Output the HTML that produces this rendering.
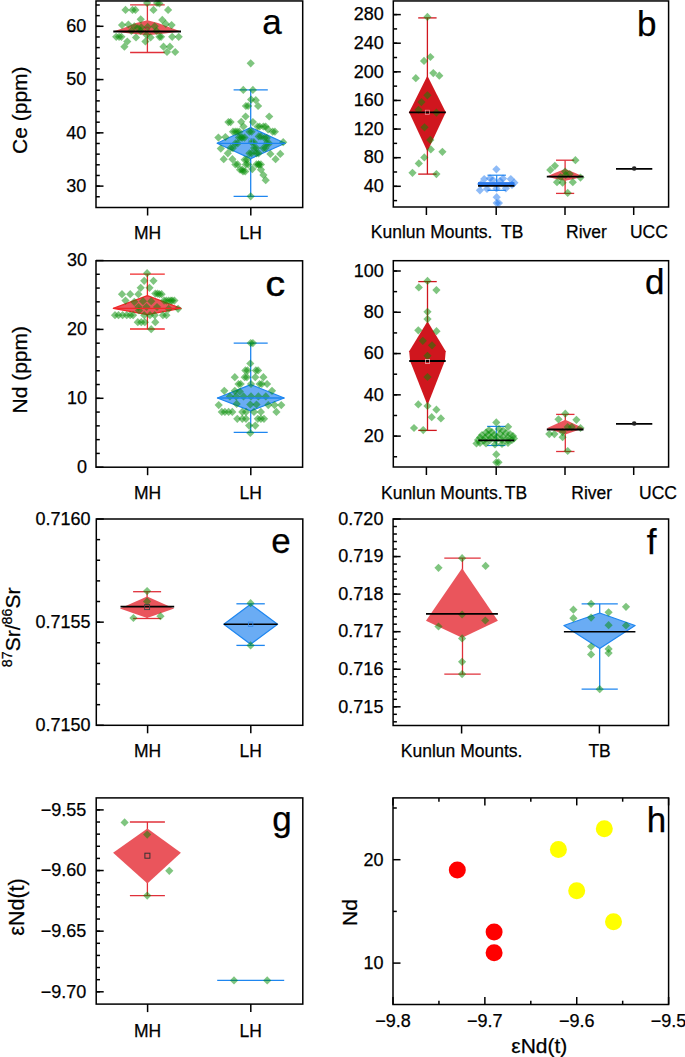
<!DOCTYPE html>
<html><head><meta charset="utf-8"><style>
html,body{margin:0;padding:0;background:#fff;}
svg{display:block;font-family:"Liberation Sans", sans-serif;}
text{stroke:#000;stroke-width:0.25px;}
</style></head><body>
<svg width="685" height="1057" viewBox="0 0 685 1057">
<rect width="685" height="1057" fill="#fff"/>
<line x1="147.40" y1="4.90" x2="147.40" y2="52.50" stroke="#e0303a" stroke-width="1.3" />
<line x1="130.10" y1="4.90" x2="164.70" y2="4.90" stroke="#e0303a" stroke-width="1.3" />
<line x1="130.10" y1="52.50" x2="164.70" y2="52.50" stroke="#e0303a" stroke-width="1.3" />
<polygon points="113.3,31.5 125.0,27.5 136.0,23.0 147.4,20.2 158.0,23.0 170.0,27.5 181.0,31.5 165.0,33.5 147.4,35.2 130.0,33.5" fill="#ea555c" stroke="none" stroke-width="1.2" stroke-linejoin="round"/>
<line x1="250.70" y1="89.80" x2="250.70" y2="196.30" stroke="#1e86f0" stroke-width="1.3" />
<line x1="233.60" y1="89.80" x2="267.80" y2="89.80" stroke="#1e86f0" stroke-width="1.3" />
<line x1="233.60" y1="196.30" x2="267.80" y2="196.30" stroke="#1e86f0" stroke-width="1.3" />
<polygon points="250.7,127.5 285.2,143.3 250.7,158.6 217.1,143.3" fill="#6aacf4" stroke="#1e86f0" stroke-width="1.2" stroke-linejoin="round"/>
<g fill="rgba(0,140,0,0.5)"><path d="M125.5 5.8L129.6 9.9L125.5 14.0L121.4 9.9Z"/><path d="M132.5 5.8L136.6 9.9L132.5 14.0L128.4 9.9Z"/><path d="M135.4 5.8L139.5 9.9L135.4 14.0L131.3 9.9Z"/><path d="M147.1 -1.2L151.2 2.9L147.1 7.0L143.0 2.9Z"/><path d="M157.0 -1.2L161.1 2.9L157.0 7.0L152.9 2.9Z"/><path d="M159.4 -0.6L163.5 3.5L159.4 7.6L155.3 3.5Z"/><path d="M153.5 5.8L157.6 9.9L153.5 14.0L149.4 9.9Z"/><path d="M168.1 5.8L172.2 9.9L168.1 14.0L164.0 9.9Z"/><path d="M140.7 15.2L144.8 19.3L140.7 23.4L136.6 19.3Z"/><path d="M162.3 15.8L166.4 19.9L162.3 24.0L158.2 19.9Z"/><path d="M122.0 21.0L126.1 25.1L122.0 29.2L117.9 25.1Z"/><path d="M128.4 20.4L132.5 24.5L128.4 28.6L124.3 24.5Z"/><path d="M134.3 22.2L138.4 26.3L134.3 30.4L130.2 26.3Z"/><path d="M141.3 23.3L145.4 27.4L141.3 31.5L137.2 27.4Z"/><path d="M147.7 22.8L151.8 26.9L147.7 31.0L143.6 26.9Z"/><path d="M154.7 22.2L158.8 26.3L154.7 30.4L150.6 26.3Z"/><path d="M165.8 19.8L169.9 23.9L165.8 28.0L161.7 23.9Z"/><path d="M171.6 21.0L175.7 25.1L171.6 29.2L167.5 25.1Z"/><path d="M131.4 26.8L135.5 30.9L131.4 35.0L127.3 30.9Z"/><path d="M140.7 26.8L144.8 30.9L140.7 35.0L136.6 30.9Z"/><path d="M156.5 26.8L160.6 30.9L156.5 35.0L152.4 30.9Z"/><path d="M116.2 32.7L120.3 36.8L116.2 40.9L112.1 36.8Z"/><path d="M119.1 32.7L123.2 36.8L119.1 40.9L115.0 36.8Z"/><path d="M121.4 32.7L125.5 36.8L121.4 40.9L117.3 36.8Z"/><path d="M136.0 33.3L140.1 37.4L136.0 41.5L131.9 37.4Z"/><path d="M150.6 33.3L154.7 37.4L150.6 41.5L146.5 37.4Z"/><path d="M159.4 32.7L163.5 36.8L159.4 40.9L155.3 36.8Z"/><path d="M161.1 32.7L165.2 36.8L161.1 40.9L157.0 36.8Z"/><path d="M172.2 32.7L176.3 36.8L172.2 40.9L168.1 36.8Z"/><path d="M178.7 32.7L182.8 36.8L178.7 40.9L174.6 36.8Z"/><path d="M127.3 37.4L131.4 41.5L127.3 45.6L123.2 41.5Z"/><path d="M145.4 37.4L149.5 41.5L145.4 45.6L141.3 41.5Z"/><path d="M124.4 42.6L128.5 46.7L124.4 50.8L120.3 46.7Z"/><path d="M163.5 42.6L167.6 46.7L163.5 50.8L159.4 46.7Z"/><path d="M169.9 42.6L174.0 46.7L169.9 50.8L165.8 46.7Z"/><path d="M167.0 47.9L171.1 52.0L167.0 56.1L162.9 52.0Z"/><path d="M175.2 47.9L179.3 52.0L175.2 56.1L171.1 52.0Z"/><path d="M146.5 30.9L150.6 35.0L146.5 39.1L142.4 35.0Z"/><path d="M137.8 23.9L141.9 28.0L137.8 32.1L133.7 28.0Z"/><path d="M250.7 59.2L254.8 63.3L250.7 67.4L246.6 63.3Z"/><path d="M243.3 85.8L247.4 89.9L243.3 94.0L239.2 89.9Z"/><path d="M252.9 85.8L257.0 89.9L252.9 94.0L248.8 89.9Z"/><path d="M251.1 95.5L255.2 99.6L251.1 103.7L247.0 99.6Z"/><path d="M255.8 96.1L259.9 100.2L255.8 104.3L251.7 100.2Z"/><path d="M245.9 101.9L250.0 106.0L245.9 110.1L241.8 106.0Z"/><path d="M248.1 101.9L252.2 106.0L248.1 110.1L244.0 106.0Z"/><path d="M258.1 101.9L262.2 106.0L258.1 110.1L254.0 106.0Z"/><path d="M245.6 112.4L249.7 116.5L245.6 120.6L241.5 116.5Z"/><path d="M269.2 112.4L273.3 116.5L269.2 120.6L265.1 116.5Z"/><path d="M228.4 118.0L232.5 122.1L228.4 126.2L224.3 122.1Z"/><path d="M230.6 118.0L234.7 122.1L230.6 126.2L226.5 122.1Z"/><path d="M241.2 117.7L245.3 121.8L241.2 125.9L237.1 121.8Z"/><path d="M252.9 118.0L257.0 122.1L252.9 126.2L248.8 122.1Z"/><path d="M243.5 122.4L247.6 126.5L243.5 130.6L239.4 126.5Z"/><path d="M257.5 122.4L261.6 126.5L257.5 130.6L253.4 126.5Z"/><path d="M259.7 122.4L263.8 126.5L259.7 130.6L255.6 126.5Z"/><path d="M263.4 122.4L267.5 126.5L263.4 130.6L259.3 126.5Z"/><path d="M265.6 122.4L269.7 126.5L265.6 130.6L261.5 126.5Z"/><path d="M233.0 127.6L237.1 131.7L233.0 135.8L228.9 131.7Z"/><path d="M235.2 127.6L239.3 131.7L235.2 135.8L231.1 131.7Z"/><path d="M237.1 127.6L241.2 131.7L237.1 135.8L233.0 131.7Z"/><path d="M239.3 127.6L243.4 131.7L239.3 135.8L235.2 131.7Z"/><path d="M249.4 127.6L253.5 131.7L249.4 135.8L245.3 131.7Z"/><path d="M251.6 127.6L255.7 131.7L251.6 135.8L247.5 131.7Z"/><path d="M272.7 127.6L276.8 131.7L272.7 135.8L268.6 131.7Z"/><path d="M274.9 127.6L279.0 131.7L274.9 135.8L270.8 131.7Z"/><path d="M268.1 125.3L272.2 129.4L268.1 133.5L264.0 129.4Z"/><path d="M218.4 133.5L222.5 137.6L218.4 141.7L214.3 137.6Z"/><path d="M225.4 132.9L229.5 137.0L225.4 141.1L221.3 137.0Z"/><path d="M238.9 133.5L243.0 137.6L238.9 141.7L234.8 137.6Z"/><path d="M241.1 133.5L245.2 137.6L241.1 141.7L237.0 137.6Z"/><path d="M242.4 133.5L246.5 137.6L242.4 141.7L238.3 137.6Z"/><path d="M244.6 133.5L248.7 137.6L244.6 141.7L240.5 137.6Z"/><path d="M258.7 132.3L262.8 136.4L258.7 140.5L254.6 136.4Z"/><path d="M260.9 132.3L265.0 136.4L260.9 140.5L256.8 136.4Z"/><path d="M264.6 134.0L268.7 138.1L264.6 142.2L260.5 138.1Z"/><path d="M266.8 134.0L270.9 138.1L266.8 142.2L262.7 138.1Z"/><path d="M283.2 138.1L287.3 142.2L283.2 146.3L279.1 142.2Z"/><path d="M235.4 139.3L239.5 143.4L235.4 147.5L231.3 143.4Z"/><path d="M237.6 139.3L241.7 143.4L237.6 147.5L233.5 143.4Z"/><path d="M251.7 138.1L255.8 142.2L251.7 146.3L247.6 142.2Z"/><path d="M253.9 138.1L258.0 142.2L253.9 146.3L249.8 142.2Z"/><path d="M266.9 139.3L271.0 143.4L266.9 147.5L262.8 143.4Z"/><path d="M269.1 139.3L273.2 143.4L269.1 147.5L265.0 143.4Z"/><path d="M220.8 144.5L224.9 148.6L220.8 152.7L216.7 148.6Z"/><path d="M230.7 144.0L234.8 148.1L230.7 152.2L226.6 148.1Z"/><path d="M232.9 144.0L237.0 148.1L232.9 152.2L228.8 148.1Z"/><path d="M254.0 144.0L258.1 148.1L254.0 152.2L249.9 148.1Z"/><path d="M256.2 144.0L260.3 148.1L256.2 152.2L252.1 148.1Z"/><path d="M263.4 144.0L267.5 148.1L263.4 152.2L259.3 148.1Z"/><path d="M265.6 144.0L269.7 148.1L265.6 152.2L261.5 148.1Z"/><path d="M227.8 149.2L231.9 153.3L227.8 157.4L223.7 153.3Z"/><path d="M249.4 149.2L253.5 153.3L249.4 157.4L245.3 153.3Z"/><path d="M251.6 149.2L255.7 153.3L251.6 157.4L247.5 153.3Z"/><path d="M256.4 149.2L260.5 153.3L256.4 157.4L252.3 153.3Z"/><path d="M258.6 149.2L262.7 153.3L258.6 157.4L254.5 153.3Z"/><path d="M270.4 149.8L274.5 153.9L270.4 158.0L266.3 153.9Z"/><path d="M280.3 149.8L284.4 153.9L280.3 158.0L276.2 153.9Z"/><path d="M223.7 155.1L227.8 159.2L223.7 163.3L219.6 159.2Z"/><path d="M232.4 155.1L236.5 159.2L232.4 163.3L228.3 159.2Z"/><path d="M244.7 155.6L248.8 159.7L244.7 163.8L240.6 159.7Z"/><path d="M246.9 155.6L251.0 159.7L246.9 163.8L242.8 159.7Z"/><path d="M275.6 155.1L279.7 159.2L275.6 163.3L271.5 159.2Z"/><path d="M235.4 160.3L239.5 164.4L235.4 168.5L231.3 164.4Z"/><path d="M237.6 160.3L241.7 164.4L237.6 168.5L233.5 164.4Z"/><path d="M245.9 160.3L250.0 164.4L245.9 168.5L241.8 164.4Z"/><path d="M248.1 160.3L252.2 164.4L248.1 168.5L244.0 164.4Z"/><path d="M256.4 160.3L260.5 164.4L256.4 168.5L252.3 164.4Z"/><path d="M258.6 160.3L262.7 164.4L258.6 168.5L254.5 164.4Z"/><path d="M258.7 160.3L262.8 164.4L258.7 168.5L254.6 164.4Z"/><path d="M260.9 160.3L265.0 164.4L260.9 168.5L256.8 164.4Z"/><path d="M240.0 165.6L244.1 169.7L240.0 173.8L235.9 169.7Z"/><path d="M242.2 165.6L246.3 169.7L242.2 173.8L238.1 169.7Z"/><path d="M252.3 165.0L256.4 169.1L252.3 173.2L248.2 169.1Z"/><path d="M261.0 165.6L265.1 169.7L261.0 173.8L256.9 169.7Z"/><path d="M243.0 167.3L247.1 171.4L243.0 175.5L238.9 171.4Z"/><path d="M245.2 167.3L249.3 171.4L245.2 175.5L241.1 171.4Z"/><path d="M263.4 170.9L267.5 175.0L263.4 179.1L259.3 175.0Z"/><path d="M265.7 176.1L269.8 180.2L265.7 184.3L261.6 180.2Z"/><path d="M250.7 192.2L254.8 196.3L250.7 200.4L246.6 196.3Z"/></g>
<line x1="217.10" y1="143.30" x2="285.20" y2="143.30" stroke="#1e86f0" stroke-width="1.3" />
<rect x="248.70" y="138.80" width="4" height="4" fill="none" stroke="#3a8ae8" stroke-width="0.7"/>
<circle cx="147.1" cy="29.2" r="2.2" fill="none" stroke="#a03030" stroke-width="0.8"/>
<line x1="113.30" y1="31.50" x2="181.00" y2="31.50" stroke="#000" stroke-width="1.8" />
<rect x="96" y="0.95" width="206.7" height="206.55" fill="none" stroke="#000" stroke-width="1.5"/>
<line x1="96.00" y1="186.11" x2="103.50" y2="186.11" stroke="#000" stroke-width="1.5" />
<line x1="96.00" y1="132.84" x2="103.50" y2="132.84" stroke="#000" stroke-width="1.5" />
<line x1="96.00" y1="79.57" x2="103.50" y2="79.57" stroke="#000" stroke-width="1.5" />
<line x1="96.00" y1="26.30" x2="103.50" y2="26.30" stroke="#000" stroke-width="1.5" />
<line x1="96.00" y1="196.76" x2="99.80" y2="196.76" stroke="#000" stroke-width="1.5" />
<line x1="96.00" y1="186.11" x2="99.80" y2="186.11" stroke="#000" stroke-width="1.5" />
<line x1="96.00" y1="175.46" x2="99.80" y2="175.46" stroke="#000" stroke-width="1.5" />
<line x1="96.00" y1="164.80" x2="99.80" y2="164.80" stroke="#000" stroke-width="1.5" />
<line x1="96.00" y1="154.15" x2="99.80" y2="154.15" stroke="#000" stroke-width="1.5" />
<line x1="96.00" y1="143.49" x2="99.80" y2="143.49" stroke="#000" stroke-width="1.5" />
<line x1="96.00" y1="132.84" x2="99.80" y2="132.84" stroke="#000" stroke-width="1.5" />
<line x1="96.00" y1="122.19" x2="99.80" y2="122.19" stroke="#000" stroke-width="1.5" />
<line x1="96.00" y1="111.53" x2="99.80" y2="111.53" stroke="#000" stroke-width="1.5" />
<line x1="96.00" y1="100.88" x2="99.80" y2="100.88" stroke="#000" stroke-width="1.5" />
<line x1="96.00" y1="90.22" x2="99.80" y2="90.22" stroke="#000" stroke-width="1.5" />
<line x1="96.00" y1="79.57" x2="99.80" y2="79.57" stroke="#000" stroke-width="1.5" />
<line x1="96.00" y1="68.92" x2="99.80" y2="68.92" stroke="#000" stroke-width="1.5" />
<line x1="96.00" y1="58.26" x2="99.80" y2="58.26" stroke="#000" stroke-width="1.5" />
<line x1="96.00" y1="47.61" x2="99.80" y2="47.61" stroke="#000" stroke-width="1.5" />
<line x1="96.00" y1="36.95" x2="99.80" y2="36.95" stroke="#000" stroke-width="1.5" />
<line x1="96.00" y1="26.30" x2="99.80" y2="26.30" stroke="#000" stroke-width="1.5" />
<line x1="96.00" y1="15.65" x2="99.80" y2="15.65" stroke="#000" stroke-width="1.5" />
<line x1="96.00" y1="4.99" x2="99.80" y2="4.99" stroke="#000" stroke-width="1.5" />
<text x="86.30" y="191.91" font-size="18" text-anchor="end" font-weight="normal" >30</text>
<text x="86.30" y="138.64" font-size="18" text-anchor="end" font-weight="normal" >40</text>
<text x="86.30" y="85.37" font-size="18" text-anchor="end" font-weight="normal" >50</text>
<text x="86.30" y="32.10" font-size="18" text-anchor="end" font-weight="normal" >60</text>
<line x1="147.60" y1="207.50" x2="147.60" y2="215.50" stroke="#000" stroke-width="1.5" />
<line x1="250.80" y1="207.50" x2="250.80" y2="215.50" stroke="#000" stroke-width="1.5" />
<text x="147.60" y="238.90" font-size="17.5" text-anchor="middle" font-weight="normal" >MH</text>
<text x="250.80" y="238.90" font-size="17.5" text-anchor="middle" font-weight="normal" >LH</text>
<text x="281.80" y="33.90" font-size="35" text-anchor="end" font-weight="normal" >a</text>
<text transform="translate(27.3,110.2) rotate(-90)" font-size="21" text-anchor="middle">Ce (ppm)</text>
<line x1="427.40" y1="17.90" x2="427.40" y2="174.10" stroke="#d0161e" stroke-width="1.3" />
<line x1="418.20" y1="17.90" x2="436.60" y2="17.90" stroke="#d0161e" stroke-width="1.3" />
<line x1="418.20" y1="174.10" x2="436.60" y2="174.10" stroke="#d0161e" stroke-width="1.3" />
<polygon points="427.4,75.7 445.8,112.3 427.4,151.5 409.1,112.3" fill="#d0161e" stroke="none" stroke-width="1.2" stroke-linejoin="round"/>
<line x1="496.70" y1="175.20" x2="496.70" y2="190.30" stroke="#1e86f0" stroke-width="1.2" />
<line x1="487.50" y1="175.20" x2="505.90" y2="175.20" stroke="#1e86f0" stroke-width="1.2" />
<line x1="487.50" y1="190.30" x2="505.90" y2="190.30" stroke="#1e86f0" stroke-width="1.2" />
<g fill="rgba(30,120,240,0.5)"><path d="M496.4 165.2L500.5 169.3L496.4 173.4L492.3 169.3Z"/><path d="M484.2 175.0L488.3 179.1L484.2 183.2L480.1 179.1Z"/><path d="M490.0 174.2L494.1 178.3L490.0 182.4L485.9 178.3Z"/><path d="M503.0 174.5L507.1 178.6L503.0 182.7L498.9 178.6Z"/><path d="M510.8 175.0L514.9 179.1L510.8 183.2L506.7 179.1Z"/><path d="M514.4 178.6L518.5 182.7L514.4 186.8L510.3 182.7Z"/><path d="M479.9 186.2L484.0 190.3L479.9 194.4L475.8 190.3Z"/><path d="M487.0 184.9L491.1 189.0L487.0 193.1L482.9 189.0Z"/><path d="M496.5 184.4L500.6 188.5L496.5 192.6L492.4 188.5Z"/><path d="M505.9 184.2L510.0 188.3L505.9 192.4L501.8 188.3Z"/><path d="M496.7 193.1L500.8 197.2L496.7 201.3L492.6 197.2Z"/><path d="M496.7 199.0L500.8 203.1L496.7 207.2L492.6 203.1Z"/><path d="M498.9 199.0L503.0 203.1L498.9 207.2L494.8 203.1Z"/><path d="M481.0 179.9L485.1 184.0L481.0 188.1L476.9 184.0Z"/><path d="M512.0 180.9L516.1 185.0L512.0 189.1L507.9 185.0Z"/><path d="M493.0 175.9L497.1 180.0L493.0 184.1L488.9 180.0Z"/><path d="M500.0 176.9L504.1 181.0L500.0 185.1L495.9 181.0Z"/></g>
<rect x="478" y="182.1" width="36.4" height="3.3" fill="#2a78ea"/>
<line x1="565.10" y1="160.20" x2="565.10" y2="193.40" stroke="#e0303a" stroke-width="1.3" />
<line x1="556.00" y1="160.20" x2="574.20" y2="160.20" stroke="#e0303a" stroke-width="1.3" />
<line x1="556.00" y1="193.40" x2="574.20" y2="193.40" stroke="#e0303a" stroke-width="1.3" />
<polygon points="546.8,176.6 556.0,172.5 565.1,168.9 574.0,172.5 583.5,176.6 574.0,179.0 565.1,180.7 556.0,179.0" fill="#ea555c" stroke="none" stroke-width="1.2" stroke-linejoin="round"/>
<g fill="rgba(0,140,0,0.5)"><path d="M427.4 12.8L431.5 16.9L427.4 21.0L423.3 16.9Z"/><path d="M424.0 56.8L428.1 60.9L424.0 65.0L419.9 60.9Z"/><path d="M430.4 52.9L434.5 57.0L430.4 61.1L426.3 57.0Z"/><path d="M415.8 74.1L419.9 78.2L415.8 82.3L411.7 78.2Z"/><path d="M433.3 69.0L437.4 73.1L433.3 77.2L429.2 73.1Z"/><path d="M439.3 71.6L443.4 75.7L439.3 79.8L435.2 75.7Z"/><path d="M427.4 91.2L431.5 95.3L427.4 99.4L423.3 95.3Z"/><path d="M421.4 98.0L425.5 102.1L421.4 106.2L417.3 102.1Z"/><path d="M418.5 105.7L422.6 109.8L418.5 113.9L414.4 109.8Z"/><path d="M436.4 108.5L440.5 112.6L436.4 116.7L432.3 112.6Z"/><path d="M424.5 123.2L428.6 127.3L424.5 131.4L420.4 127.3Z"/><path d="M430.3 135.8L434.4 139.9L430.3 144.0L426.2 139.9Z"/><path d="M430.8 145.3L434.9 149.4L430.8 153.5L426.7 149.4Z"/><path d="M442.4 147.7L446.5 151.8L442.4 155.9L438.3 151.8Z"/><path d="M424.3 153.3L428.4 157.4L424.3 161.5L420.2 157.4Z"/><path d="M418.8 159.3L422.9 163.4L418.8 167.5L414.7 163.4Z"/><path d="M412.5 168.7L416.6 172.8L412.5 176.9L408.4 172.8Z"/><path d="M436.4 170.0L440.5 174.1L436.4 178.2L432.3 174.1Z"/><path d="M575.4 156.1L579.5 160.2L575.4 164.3L571.3 160.2Z"/><path d="M554.9 161.7L559.0 165.8L554.9 169.9L550.8 165.8Z"/><path d="M550.3 165.8L554.4 169.9L550.3 174.0L546.2 169.9Z"/><path d="M565.1 167.4L569.2 171.5L565.1 175.6L561.0 171.5Z"/><path d="M569.7 169.9L573.8 174.0L569.7 178.1L565.6 174.0Z"/><path d="M560.5 173.0L564.6 177.1L560.5 181.2L556.4 177.1Z"/><path d="M580.5 173.5L584.6 177.6L580.5 181.7L576.4 177.6Z"/><path d="M557.0 178.1L561.1 182.2L557.0 186.3L552.9 182.2Z"/><path d="M562.6 178.6L566.7 182.7L562.6 186.8L558.5 182.7Z"/><path d="M572.8 178.1L576.9 182.2L572.8 186.3L568.7 182.2Z"/><path d="M567.7 188.8L571.8 192.9L567.7 197.0L563.6 192.9Z"/><path d="M565.7 170.9L569.8 175.0L565.7 179.1L561.6 175.0Z"/></g>
<line x1="409.10" y1="112.30" x2="445.80" y2="112.30" stroke="#000" stroke-width="1.8" />
<rect x="425.25" y="110.15" width="4.3" height="4.3" fill="none" stroke="#f3b0b0" stroke-width="0.6"/>
<line x1="478.00" y1="185.90" x2="514.40" y2="185.90" stroke="#000" stroke-width="1.8" />
<line x1="546.80" y1="176.60" x2="583.50" y2="176.60" stroke="#000" stroke-width="1.8" />
<line x1="616.00" y1="168.80" x2="652.30" y2="168.80" stroke="#000" stroke-width="1.8" />
<circle cx="634.2" cy="168.5" r="2.3" fill="#222"/>
<rect x="393.3" y="0.95" width="275.3" height="206.05" fill="none" stroke="#000" stroke-width="1.5"/>
<line x1="393.30" y1="186.30" x2="400.80" y2="186.30" stroke="#000" stroke-width="1.5" />
<line x1="393.30" y1="157.68" x2="400.80" y2="157.68" stroke="#000" stroke-width="1.5" />
<line x1="393.30" y1="129.06" x2="400.80" y2="129.06" stroke="#000" stroke-width="1.5" />
<line x1="393.30" y1="100.45" x2="400.80" y2="100.45" stroke="#000" stroke-width="1.5" />
<line x1="393.30" y1="71.83" x2="400.80" y2="71.83" stroke="#000" stroke-width="1.5" />
<line x1="393.30" y1="43.22" x2="400.80" y2="43.22" stroke="#000" stroke-width="1.5" />
<line x1="393.30" y1="14.60" x2="400.80" y2="14.60" stroke="#000" stroke-width="1.5" />
<line x1="393.30" y1="200.60" x2="397.10" y2="200.60" stroke="#000" stroke-width="1.5" />
<line x1="393.30" y1="186.30" x2="397.10" y2="186.30" stroke="#000" stroke-width="1.5" />
<line x1="393.30" y1="171.99" x2="397.10" y2="171.99" stroke="#000" stroke-width="1.5" />
<line x1="393.30" y1="157.68" x2="397.10" y2="157.68" stroke="#000" stroke-width="1.5" />
<line x1="393.30" y1="143.37" x2="397.10" y2="143.37" stroke="#000" stroke-width="1.5" />
<line x1="393.30" y1="129.06" x2="397.10" y2="129.06" stroke="#000" stroke-width="1.5" />
<line x1="393.30" y1="114.76" x2="397.10" y2="114.76" stroke="#000" stroke-width="1.5" />
<line x1="393.30" y1="100.45" x2="397.10" y2="100.45" stroke="#000" stroke-width="1.5" />
<line x1="393.30" y1="86.14" x2="397.10" y2="86.14" stroke="#000" stroke-width="1.5" />
<line x1="393.30" y1="71.83" x2="397.10" y2="71.83" stroke="#000" stroke-width="1.5" />
<line x1="393.30" y1="57.52" x2="397.10" y2="57.52" stroke="#000" stroke-width="1.5" />
<line x1="393.30" y1="43.22" x2="397.10" y2="43.22" stroke="#000" stroke-width="1.5" />
<line x1="393.30" y1="28.91" x2="397.10" y2="28.91" stroke="#000" stroke-width="1.5" />
<line x1="393.30" y1="14.60" x2="397.10" y2="14.60" stroke="#000" stroke-width="1.5" />
<text x="383.80" y="192.10" font-size="18" text-anchor="end" font-weight="normal" >40</text>
<text x="383.80" y="163.48" font-size="18" text-anchor="end" font-weight="normal" >80</text>
<text x="383.80" y="134.86" font-size="18" text-anchor="end" font-weight="normal" >120</text>
<text x="383.80" y="106.25" font-size="18" text-anchor="end" font-weight="normal" >160</text>
<text x="383.80" y="77.63" font-size="18" text-anchor="end" font-weight="normal" >200</text>
<text x="383.80" y="49.02" font-size="18" text-anchor="end" font-weight="normal" >240</text>
<text x="383.80" y="20.40" font-size="18" text-anchor="end" font-weight="normal" >280</text>
<line x1="426.40" y1="207.00" x2="426.40" y2="215.00" stroke="#000" stroke-width="1.5" />
<line x1="496.20" y1="207.00" x2="496.20" y2="215.00" stroke="#000" stroke-width="1.5" />
<line x1="565.00" y1="207.00" x2="565.00" y2="215.00" stroke="#000" stroke-width="1.5" />
<line x1="633.70" y1="207.00" x2="633.70" y2="215.00" stroke="#000" stroke-width="1.5" />
<text x="431.60" y="237.60" font-size="17.5" text-anchor="middle" font-weight="normal" >Kunlun Mounts.</text>
<text x="512.20" y="237.60" font-size="17.5" text-anchor="middle" font-weight="normal" >TB</text>
<text x="586.50" y="237.60" font-size="17.5" text-anchor="middle" font-weight="normal" >River</text>
<text x="648.90" y="237.60" font-size="17.5" text-anchor="middle" font-weight="normal" >UCC</text>
<text x="656.50" y="35.80" font-size="35" text-anchor="end" font-weight="normal" >b</text>
<line x1="147.40" y1="274.10" x2="147.40" y2="329.00" stroke="#f0282a" stroke-width="1.3" />
<line x1="130.00" y1="274.10" x2="164.80" y2="274.10" stroke="#f0282a" stroke-width="1.3" />
<line x1="130.00" y1="329.00" x2="164.80" y2="329.00" stroke="#f0282a" stroke-width="1.3" />
<polygon points="147.4,295.6 181.0,308.4 147.4,314.6 113.3,308.4" fill="#ea555c" stroke="#f0282a" stroke-width="1.2" stroke-linejoin="round"/>
<line x1="250.70" y1="343.10" x2="250.70" y2="432.40" stroke="#1e86f0" stroke-width="1.3" />
<line x1="233.70" y1="343.10" x2="267.70" y2="343.10" stroke="#1e86f0" stroke-width="1.3" />
<line x1="233.70" y1="432.40" x2="267.70" y2="432.40" stroke="#1e86f0" stroke-width="1.3" />
<polygon points="250.7,384.6 284.2,398.0 250.7,410.9 217.4,398.0" fill="#6aacf4" stroke="#1e86f0" stroke-width="1.2" stroke-linejoin="round"/>
<g fill="rgba(0,140,0,0.5)"><path d="M147.1 269.1L151.2 273.2L147.1 277.3L143.0 273.2Z"/><path d="M144.2 276.7L148.3 280.8L144.2 284.9L140.1 280.8Z"/><path d="M153.5 276.7L157.6 280.8L153.5 284.9L149.4 280.8Z"/><path d="M140.7 283.7L144.8 287.8L140.7 291.9L136.6 287.8Z"/><path d="M149.5 283.7L153.6 287.8L149.5 291.9L145.4 287.8Z"/><path d="M122.0 290.1L126.1 294.2L122.0 298.3L117.9 294.2Z"/><path d="M130.2 290.1L134.3 294.2L130.2 298.3L126.1 294.2Z"/><path d="M138.4 290.1L142.5 294.2L138.4 298.3L134.3 294.2Z"/><path d="M155.3 289.5L159.4 293.6L155.3 297.7L151.2 293.6Z"/><path d="M157.5 289.5L161.6 293.6L157.5 297.7L153.4 293.6Z"/><path d="M159.4 290.1L163.5 294.2L159.4 298.3L155.3 294.2Z"/><path d="M161.6 290.1L165.7 294.2L161.6 298.3L157.5 294.2Z"/><path d="M125.5 296.5L129.6 300.6L125.5 304.7L121.4 300.6Z"/><path d="M134.3 297.7L138.4 301.8L134.3 305.9L130.2 301.8Z"/><path d="M143.0 297.1L147.1 301.2L143.0 305.3L138.9 301.2Z"/><path d="M151.2 297.1L155.3 301.2L151.2 305.3L147.1 301.2Z"/><path d="M164.1 296.5L168.2 300.6L164.1 304.7L160.0 300.6Z"/><path d="M166.3 296.5L170.4 300.6L166.3 304.7L162.2 300.6Z"/><path d="M168.7 296.5L172.8 300.6L168.7 304.7L164.6 300.6Z"/><path d="M170.9 296.5L175.0 300.6L170.9 304.7L166.8 300.6Z"/><path d="M172.2 296.5L176.3 300.6L172.2 304.7L168.1 300.6Z"/><path d="M174.4 296.5L178.5 300.6L174.4 304.7L170.3 300.6Z"/><path d="M138.4 302.9L142.5 307.0L138.4 311.1L134.3 307.0Z"/><path d="M146.5 302.9L150.6 307.0L146.5 311.1L142.4 307.0Z"/><path d="M157.0 302.9L161.1 307.0L157.0 311.1L152.9 307.0Z"/><path d="M168.7 304.7L172.8 308.8L168.7 312.9L164.6 308.8Z"/><path d="M178.1 304.7L182.2 308.8L178.1 312.9L174.0 308.8Z"/><path d="M139.0 306.4L143.1 310.5L139.0 314.6L134.9 310.5Z"/><path d="M115.0 311.1L119.1 315.2L115.0 319.3L110.9 315.2Z"/><path d="M118.5 311.1L122.6 315.2L118.5 319.3L114.4 315.2Z"/><path d="M122.6 311.1L126.7 315.2L122.6 319.3L118.5 315.2Z"/><path d="M126.7 311.1L130.8 315.2L126.7 319.3L122.6 315.2Z"/><path d="M130.2 311.1L134.3 315.2L130.2 319.3L126.1 315.2Z"/><path d="M133.1 311.1L137.2 315.2L133.1 319.3L129.0 315.2Z"/><path d="M144.2 311.1L148.3 315.2L144.2 319.3L140.1 315.2Z"/><path d="M150.0 311.1L154.1 315.2L150.0 319.3L145.9 315.2Z"/><path d="M154.7 311.1L158.8 315.2L154.7 319.3L150.6 315.2Z"/><path d="M162.9 311.1L167.0 315.2L162.9 319.3L158.8 315.2Z"/><path d="M166.4 311.1L170.5 315.2L166.4 319.3L162.3 315.2Z"/><path d="M137.8 318.1L141.9 322.2L137.8 326.3L133.7 322.2Z"/><path d="M141.3 318.1L145.4 322.2L141.3 326.3L137.2 322.2Z"/><path d="M144.8 318.1L148.9 322.2L144.8 326.3L140.7 322.2Z"/><path d="M155.3 318.1L159.4 322.2L155.3 326.3L151.2 322.2Z"/><path d="M151.2 325.1L155.3 329.2L151.2 333.3L147.1 329.2Z"/><path d="M250.7 339.0L254.8 343.1L250.7 347.2L246.6 343.1Z"/><path d="M252.9 339.0L257.0 343.1L252.9 347.2L248.8 343.1Z"/><path d="M250.3 359.4L254.4 363.5L250.3 367.6L246.2 363.5Z"/><path d="M245.4 366.3L249.5 370.4L245.4 374.5L241.3 370.4Z"/><path d="M247.6 366.3L251.7 370.4L247.6 374.5L243.5 370.4Z"/><path d="M255.9 366.3L260.0 370.4L255.9 374.5L251.8 370.4Z"/><path d="M258.1 366.3L262.2 370.4L258.1 374.5L254.0 370.4Z"/><path d="M234.8 373.1L238.9 377.2L234.8 381.3L230.7 377.2Z"/><path d="M244.7 373.1L248.8 377.2L244.7 381.3L240.6 377.2Z"/><path d="M246.9 373.1L251.0 377.2L246.9 381.3L242.8 377.2Z"/><path d="M255.3 373.1L259.4 377.2L255.3 381.3L251.2 377.2Z"/><path d="M263.4 373.1L267.5 377.2L263.4 381.3L259.3 377.2Z"/><path d="M238.5 379.9L242.6 384.0L238.5 388.1L234.4 384.0Z"/><path d="M240.7 379.9L244.8 384.0L240.7 388.1L236.6 384.0Z"/><path d="M251.0 379.9L255.1 384.0L251.0 388.1L246.9 384.0Z"/><path d="M259.6 379.9L263.7 384.0L259.6 388.1L255.5 384.0Z"/><path d="M261.8 379.9L265.9 384.0L261.8 388.1L257.7 384.0Z"/><path d="M267.1 379.9L271.2 384.0L267.1 388.1L263.0 384.0Z"/><path d="M224.3 386.7L228.4 390.8L224.3 394.9L220.2 390.8Z"/><path d="M234.8 386.7L238.9 390.8L234.8 394.9L230.7 390.8Z"/><path d="M239.8 387.4L243.9 391.5L239.8 395.6L235.7 391.5Z"/><path d="M272.0 386.7L276.1 390.8L272.0 394.9L267.9 390.8Z"/><path d="M229.9 392.3L234.0 396.4L229.9 400.5L225.8 396.4Z"/><path d="M236.1 392.3L240.2 396.4L236.1 400.5L232.0 396.4Z"/><path d="M243.5 392.3L247.6 396.4L243.5 400.5L239.4 396.4Z"/><path d="M251.0 392.3L255.1 396.4L251.0 400.5L246.9 396.4Z"/><path d="M258.4 392.3L262.5 396.4L258.4 400.5L254.3 396.4Z"/><path d="M265.8 392.3L269.9 396.4L265.8 400.5L261.7 396.4Z"/><path d="M218.7 401.0L222.8 405.1L218.7 409.2L214.6 405.1Z"/><path d="M236.7 399.8L240.8 403.9L236.7 408.0L232.6 403.9Z"/><path d="M250.3 400.4L254.4 404.5L250.3 408.6L246.2 404.5Z"/><path d="M256.5 400.4L260.6 404.5L256.5 408.6L252.4 404.5Z"/><path d="M268.3 401.0L272.4 405.1L268.3 409.2L264.2 405.1Z"/><path d="M274.5 401.0L278.6 405.1L274.5 409.2L270.4 405.1Z"/><path d="M281.3 401.0L285.4 405.1L281.3 409.2L277.2 405.1Z"/><path d="M221.8 407.8L225.9 411.9L221.8 416.0L217.7 411.9Z"/><path d="M224.9 407.8L229.0 411.9L224.9 416.0L220.8 411.9Z"/><path d="M228.6 407.8L232.7 411.9L228.6 416.0L224.5 411.9Z"/><path d="M232.3 407.8L236.4 411.9L232.3 416.0L228.2 411.9Z"/><path d="M242.3 407.8L246.4 411.9L242.3 416.0L238.2 411.9Z"/><path d="M260.9 407.8L265.0 411.9L260.9 416.0L256.8 411.9Z"/><path d="M276.4 407.8L280.5 411.9L276.4 416.0L272.3 411.9Z"/><path d="M237.3 414.7L241.4 418.8L237.3 422.9L233.2 418.8Z"/><path d="M242.3 414.7L246.4 418.8L242.3 422.9L238.2 418.8Z"/><path d="M246.0 414.7L250.1 418.8L246.0 422.9L241.9 418.8Z"/><path d="M257.8 414.7L261.9 418.8L257.8 422.9L253.7 418.8Z"/><path d="M260.9 414.7L265.0 418.8L260.9 422.9L256.8 418.8Z"/><path d="M264.0 414.7L268.1 418.8L264.0 422.9L259.9 418.8Z"/><path d="M249.1 421.5L253.2 425.6L249.1 429.7L245.0 425.6Z"/><path d="M255.3 421.5L259.4 425.6L255.3 429.7L251.2 425.6Z"/><path d="M250.3 428.9L254.4 433.0L250.3 437.1L246.2 433.0Z"/><path d="M246.0 407.8L250.1 411.9L246.0 416.0L241.9 411.9Z"/><path d="M254.0 407.8L258.1 411.9L254.0 416.0L249.9 411.9Z"/></g>
<line x1="113.30" y1="308.40" x2="181.00" y2="308.40" stroke="#f0282a" stroke-width="1.3" />
<line x1="217.40" y1="398.00" x2="284.20" y2="398.00" stroke="#1e86f0" stroke-width="1.3" />
<rect x="96" y="260.8" width="206.60000000000002" height="206.39999999999998" fill="none" stroke="#000" stroke-width="1.5"/>
<line x1="96.00" y1="467.20" x2="103.50" y2="467.20" stroke="#000" stroke-width="1.5" />
<line x1="96.00" y1="398.30" x2="103.50" y2="398.30" stroke="#000" stroke-width="1.5" />
<line x1="96.00" y1="329.40" x2="103.50" y2="329.40" stroke="#000" stroke-width="1.5" />
<line x1="96.00" y1="260.50" x2="103.50" y2="260.50" stroke="#000" stroke-width="1.5" />
<line x1="96.00" y1="453.42" x2="99.80" y2="453.42" stroke="#000" stroke-width="1.5" />
<line x1="96.00" y1="439.64" x2="99.80" y2="439.64" stroke="#000" stroke-width="1.5" />
<line x1="96.00" y1="425.86" x2="99.80" y2="425.86" stroke="#000" stroke-width="1.5" />
<line x1="96.00" y1="412.08" x2="99.80" y2="412.08" stroke="#000" stroke-width="1.5" />
<line x1="96.00" y1="398.30" x2="99.80" y2="398.30" stroke="#000" stroke-width="1.5" />
<line x1="96.00" y1="384.52" x2="99.80" y2="384.52" stroke="#000" stroke-width="1.5" />
<line x1="96.00" y1="370.74" x2="99.80" y2="370.74" stroke="#000" stroke-width="1.5" />
<line x1="96.00" y1="356.96" x2="99.80" y2="356.96" stroke="#000" stroke-width="1.5" />
<line x1="96.00" y1="343.18" x2="99.80" y2="343.18" stroke="#000" stroke-width="1.5" />
<line x1="96.00" y1="329.40" x2="99.80" y2="329.40" stroke="#000" stroke-width="1.5" />
<line x1="96.00" y1="315.62" x2="99.80" y2="315.62" stroke="#000" stroke-width="1.5" />
<line x1="96.00" y1="301.84" x2="99.80" y2="301.84" stroke="#000" stroke-width="1.5" />
<line x1="96.00" y1="288.06" x2="99.80" y2="288.06" stroke="#000" stroke-width="1.5" />
<line x1="96.00" y1="274.28" x2="99.80" y2="274.28" stroke="#000" stroke-width="1.5" />
<text x="87.00" y="473.00" font-size="18" text-anchor="end" font-weight="normal" >0</text>
<text x="87.00" y="404.10" font-size="18" text-anchor="end" font-weight="normal" >10</text>
<text x="87.00" y="335.20" font-size="18" text-anchor="end" font-weight="normal" >20</text>
<text x="87.00" y="266.30" font-size="18" text-anchor="end" font-weight="normal" >30</text>
<line x1="147.60" y1="467.20" x2="147.60" y2="475.20" stroke="#000" stroke-width="1.5" />
<line x1="250.80" y1="467.20" x2="250.80" y2="475.20" stroke="#000" stroke-width="1.5" />
<text x="147.60" y="498.50" font-size="17.5" text-anchor="middle" font-weight="normal" >MH</text>
<text x="250.80" y="498.50" font-size="17.5" text-anchor="middle" font-weight="normal" >LH</text>
<text transform="translate(285.0,295.7) scale(1.12,1)" font-size="35" text-anchor="end" style="stroke-width:0.5px">c</text>
<text transform="translate(27.3,369.75) rotate(-90)" font-size="21" text-anchor="middle">Nd (ppm)</text>
<line x1="427.50" y1="281.60" x2="427.50" y2="430.40" stroke="#d0161e" stroke-width="1.3" />
<line x1="418.25" y1="281.60" x2="436.75" y2="281.60" stroke="#d0161e" stroke-width="1.3" />
<line x1="418.25" y1="430.40" x2="436.75" y2="430.40" stroke="#d0161e" stroke-width="1.3" />
<polygon points="427.5,321.2 445.7,351.3 444.8,361.0 427.5,405.2 410.1,361.0 409.2,351.3" fill="#d0161e" stroke="none" stroke-width="1.2" stroke-linejoin="round"/>
<line x1="496.30" y1="426.40" x2="496.30" y2="445.50" stroke="#1e86f0" stroke-width="1.2" />
<line x1="487.10" y1="426.40" x2="505.50" y2="426.40" stroke="#1e86f0" stroke-width="1.2" />
<line x1="487.10" y1="445.50" x2="505.50" y2="445.50" stroke="#1e86f0" stroke-width="1.2" />
<line x1="565.30" y1="414.40" x2="565.30" y2="451.50" stroke="#e0303a" stroke-width="1.3" />
<line x1="556.10" y1="414.40" x2="574.50" y2="414.40" stroke="#e0303a" stroke-width="1.3" />
<line x1="556.10" y1="451.50" x2="574.50" y2="451.50" stroke="#e0303a" stroke-width="1.3" />
<polygon points="546.8,428.3 565.3,419.8 583.5,428.3 565.3,434.6" fill="#ea555c" stroke="none" stroke-width="1.2" stroke-linejoin="round"/>
<g fill="rgba(0,140,0,0.5)"><path d="M427.5 276.8L431.6 280.9L427.5 285.0L423.4 280.9Z"/><path d="M418.8 283.3L422.9 287.4L418.8 291.5L414.7 287.4Z"/><path d="M436.4 286.0L440.5 290.1L436.4 294.2L432.3 290.1Z"/><path d="M427.5 307.7L431.6 311.8L427.5 315.9L423.4 311.8Z"/><path d="M427.5 315.0L431.6 319.1L427.5 323.2L423.4 319.1Z"/><path d="M418.3 326.2L422.4 330.3L418.3 334.4L414.2 330.3Z"/><path d="M436.5 327.1L440.6 331.2L436.5 335.3L432.4 331.2Z"/><path d="M422.8 336.7L426.9 340.8L422.8 344.9L418.7 340.8Z"/><path d="M432.0 341.2L436.1 345.3L432.0 349.4L427.9 345.3Z"/><path d="M427.5 351.7L431.6 355.8L427.5 359.9L423.4 355.8Z"/><path d="M427.5 372.9L431.6 377.0L427.5 381.1L423.4 377.0Z"/><path d="M418.3 400.3L422.4 404.4L418.3 408.5L414.2 404.4Z"/><path d="M427.5 401.9L431.6 406.0L427.5 410.1L423.4 406.0Z"/><path d="M436.4 405.6L440.5 409.7L436.4 413.8L432.3 409.7Z"/><path d="M431.7 413.1L435.8 417.2L431.7 421.3L427.6 417.2Z"/><path d="M440.9 414.3L445.0 418.4L440.9 422.5L436.8 418.4Z"/><path d="M414.0 423.9L418.1 428.0L414.0 432.1L409.9 428.0Z"/><path d="M423.2 426.0L427.3 430.1L423.2 434.2L419.1 430.1Z"/><path d="M496.3 418.3L500.4 422.4L496.3 426.5L492.2 422.4Z"/><path d="M508.1 422.7L512.2 426.8L508.1 430.9L504.0 426.8Z"/><path d="M496.3 450.3L500.4 454.4L496.3 458.5L492.2 454.4Z"/><path d="M496.3 458.2L500.4 462.3L496.3 466.4L492.2 462.3Z"/><path d="M498.5 458.2L502.6 462.3L498.5 466.4L494.4 462.3Z"/><path d="M489.0 425.9L493.1 430.0L489.0 434.1L484.9 430.0Z"/><path d="M499.0 424.9L503.1 429.0L499.0 433.1L494.9 429.0Z"/><path d="M503.0 426.4L507.1 430.5L503.0 434.6L498.9 430.5Z"/><path d="M486.0 428.4L490.1 432.5L486.0 436.6L481.9 432.5Z"/><path d="M492.0 427.9L496.1 432.0L492.0 436.1L487.9 432.0Z"/><path d="M506.0 428.9L510.1 433.0L506.0 437.1L501.9 433.0Z"/><path d="M510.0 429.9L514.1 434.0L510.0 438.1L505.9 434.0Z"/><path d="M482.0 430.9L486.1 435.0L482.0 439.1L477.9 435.0Z"/><path d="M488.0 430.9L492.1 435.0L488.0 439.1L483.9 435.0Z"/><path d="M494.0 430.9L498.1 435.0L494.0 439.1L489.9 435.0Z"/><path d="M500.0 429.9L504.1 434.0L500.0 438.1L495.9 434.0Z"/><path d="M513.0 431.9L517.1 436.0L513.0 440.1L508.9 436.0Z"/><path d="M480.0 433.4L484.1 437.5L480.0 441.6L475.9 437.5Z"/><path d="M485.0 433.9L489.1 438.0L485.0 442.1L480.9 438.0Z"/><path d="M491.0 433.4L495.1 437.5L491.0 441.6L486.9 437.5Z"/><path d="M497.0 432.9L501.1 437.0L497.0 441.1L492.9 437.0Z"/><path d="M503.0 432.9L507.1 437.0L503.0 441.1L498.9 437.0Z"/><path d="M508.0 433.4L512.1 437.5L508.0 441.6L503.9 437.5Z"/><path d="M514.0 434.4L518.1 438.5L514.0 442.6L509.9 438.5Z"/><path d="M478.0 435.9L482.1 440.0L478.0 444.1L473.9 440.0Z"/><path d="M484.0 436.4L488.1 440.5L484.0 444.6L479.9 440.5Z"/><path d="M490.0 435.9L494.1 440.0L490.0 444.1L485.9 440.0Z"/><path d="M496.0 435.9L500.1 440.0L496.0 444.1L491.9 440.0Z"/><path d="M502.0 435.9L506.1 440.0L502.0 444.1L497.9 440.0Z"/><path d="M508.0 436.4L512.1 440.5L508.0 444.6L503.9 440.5Z"/><path d="M512.0 435.9L516.1 440.0L512.0 444.1L507.9 440.0Z"/><path d="M480.0 438.9L484.1 443.0L480.0 447.1L475.9 443.0Z"/><path d="M486.0 439.4L490.1 443.5L486.0 447.6L481.9 443.5Z"/><path d="M495.0 440.4L499.1 444.5L495.0 448.6L490.9 444.5Z"/><path d="M502.0 439.9L506.1 444.0L502.0 448.1L497.9 444.0Z"/><path d="M508.0 438.9L512.1 443.0L508.0 447.1L503.9 443.0Z"/><path d="M476.5 439.4L480.6 443.5L476.5 447.6L472.4 443.5Z"/><path d="M565.3 409.6L569.4 413.7L565.3 417.8L561.2 413.7Z"/><path d="M558.5 415.2L562.6 419.3L558.5 423.4L554.4 419.3Z"/><path d="M576.4 415.7L580.5 419.8L576.4 423.9L572.3 419.8Z"/><path d="M567.7 422.9L571.8 427.0L567.7 431.1L563.6 427.0Z"/><path d="M571.8 422.9L575.9 427.0L571.8 431.1L567.7 427.0Z"/><path d="M580.5 423.9L584.6 428.0L580.5 432.1L576.4 428.0Z"/><path d="M562.6 428.0L566.7 432.1L562.6 436.2L558.5 432.1Z"/><path d="M549.3 430.0L553.4 434.1L549.3 438.2L545.2 434.1Z"/><path d="M554.4 430.0L558.5 434.1L554.4 438.2L550.3 434.1Z"/><path d="M562.6 433.1L566.7 437.2L562.6 441.3L558.5 437.2Z"/><path d="M567.7 446.9L571.8 451.0L567.7 455.1L563.6 451.0Z"/></g>
<line x1="409.20" y1="361.00" x2="445.70" y2="361.00" stroke="#000" stroke-width="1.8" />
<rect x="425.35" y="359.35" width="4.3" height="4.3" fill="none" stroke="#f0c0c0" stroke-width="0.7"/>
<line x1="478.30" y1="440.40" x2="514.20" y2="440.40" stroke="#000" stroke-width="1.8" />
<line x1="546.80" y1="429.50" x2="583.50" y2="429.50" stroke="#000" stroke-width="1.8" />
<line x1="616.00" y1="423.80" x2="652.30" y2="423.80" stroke="#000" stroke-width="1.8" />
<circle cx="634.2" cy="423.5" r="2.3" fill="#222"/>
<rect x="393.3" y="260.7" width="275.3" height="206.3" fill="none" stroke="#000" stroke-width="1.5"/>
<line x1="393.30" y1="436.12" x2="400.80" y2="436.12" stroke="#000" stroke-width="1.5" />
<line x1="393.30" y1="394.84" x2="400.80" y2="394.84" stroke="#000" stroke-width="1.5" />
<line x1="393.30" y1="353.56" x2="400.80" y2="353.56" stroke="#000" stroke-width="1.5" />
<line x1="393.30" y1="312.28" x2="400.80" y2="312.28" stroke="#000" stroke-width="1.5" />
<line x1="393.30" y1="271.00" x2="400.80" y2="271.00" stroke="#000" stroke-width="1.5" />
<line x1="393.30" y1="456.76" x2="397.10" y2="456.76" stroke="#000" stroke-width="1.5" />
<line x1="393.30" y1="436.12" x2="397.10" y2="436.12" stroke="#000" stroke-width="1.5" />
<line x1="393.30" y1="415.48" x2="397.10" y2="415.48" stroke="#000" stroke-width="1.5" />
<line x1="393.30" y1="394.84" x2="397.10" y2="394.84" stroke="#000" stroke-width="1.5" />
<line x1="393.30" y1="374.20" x2="397.10" y2="374.20" stroke="#000" stroke-width="1.5" />
<line x1="393.30" y1="353.56" x2="397.10" y2="353.56" stroke="#000" stroke-width="1.5" />
<line x1="393.30" y1="332.92" x2="397.10" y2="332.92" stroke="#000" stroke-width="1.5" />
<line x1="393.30" y1="312.28" x2="397.10" y2="312.28" stroke="#000" stroke-width="1.5" />
<line x1="393.30" y1="291.64" x2="397.10" y2="291.64" stroke="#000" stroke-width="1.5" />
<line x1="393.30" y1="271.00" x2="397.10" y2="271.00" stroke="#000" stroke-width="1.5" />
<text x="383.80" y="441.92" font-size="18" text-anchor="end" font-weight="normal" >20</text>
<text x="383.80" y="400.64" font-size="18" text-anchor="end" font-weight="normal" >40</text>
<text x="383.80" y="359.36" font-size="18" text-anchor="end" font-weight="normal" >60</text>
<text x="383.80" y="318.08" font-size="18" text-anchor="end" font-weight="normal" >80</text>
<text x="383.80" y="276.80" font-size="18" text-anchor="end" font-weight="normal" >100</text>
<line x1="426.40" y1="467.00" x2="426.40" y2="475.00" stroke="#000" stroke-width="1.5" />
<line x1="496.20" y1="467.00" x2="496.20" y2="475.00" stroke="#000" stroke-width="1.5" />
<line x1="565.00" y1="467.00" x2="565.00" y2="475.00" stroke="#000" stroke-width="1.5" />
<line x1="633.70" y1="467.00" x2="633.70" y2="475.00" stroke="#000" stroke-width="1.5" />
<text x="441.80" y="499.20" font-size="17.5" text-anchor="middle" font-weight="normal" >Kunlun Mounts.</text>
<text x="515.90" y="499.20" font-size="17.5" text-anchor="middle" font-weight="normal" >TB</text>
<text x="591.70" y="499.20" font-size="17.5" text-anchor="middle" font-weight="normal" >River</text>
<text x="658.00" y="499.20" font-size="17.5" text-anchor="middle" font-weight="normal" >UCC</text>
<text x="664.40" y="294.10" font-size="35" text-anchor="end" font-weight="normal" >d</text>
<line x1="147.10" y1="591.70" x2="147.10" y2="618.50" stroke="#e0303a" stroke-width="1.3" />
<line x1="133.10" y1="591.70" x2="161.10" y2="591.70" stroke="#e0303a" stroke-width="1.3" />
<line x1="133.10" y1="618.50" x2="161.10" y2="618.50" stroke="#e0303a" stroke-width="1.3" />
<polygon points="147.1,596.4 174.2,608.6 147.1,618.0 119.9,608.6" fill="#ea555c" stroke="none" stroke-width="1.2" stroke-linejoin="round"/>
<line x1="250.60" y1="603.80" x2="250.60" y2="645.40" stroke="#1e86f0" stroke-width="1.3" />
<line x1="236.40" y1="603.80" x2="264.80" y2="603.80" stroke="#1e86f0" stroke-width="1.3" />
<line x1="236.40" y1="645.40" x2="264.80" y2="645.40" stroke="#1e86f0" stroke-width="1.3" />
<polygon points="250.6,604.3 277.6,624.3 250.6,644.3 223.8,624.3" fill="#6aacf4" stroke="#1e86f0" stroke-width="1.2" stroke-linejoin="round"/>
<g fill="rgba(0,140,0,0.5)"><path d="M147.1 587.0L151.2 591.1L147.1 595.2L143.0 591.1Z"/><path d="M147.1 597.3L151.2 601.4L147.1 605.5L143.0 601.4Z"/><path d="M133.4 613.9L137.5 618.0L133.4 622.1L129.3 618.0Z"/><path d="M160.5 612.1L164.6 616.2L160.5 620.3L156.4 616.2Z"/><path d="M250.6 599.1L254.7 603.2L250.6 607.3L246.5 603.2Z"/><path d="M250.6 641.3L254.7 645.4L250.6 649.5L246.5 645.4Z"/></g>
<line x1="120.50" y1="606.60" x2="174.20" y2="606.60" stroke="#000" stroke-width="1.6" />
<rect x="144.60" y="604.60" width="5" height="5" fill="none" stroke="#444" stroke-width="0.9"/>
<line x1="223.80" y1="624.30" x2="277.60" y2="624.30" stroke="#000" stroke-width="1.6" />
<rect x="248.35" y="622.05" width="4.5" height="4.5" fill="none" stroke="#3a8ae8" stroke-width="0.8"/>
<rect x="96.3" y="519" width="206.5" height="206.29999999999995" fill="none" stroke="#000" stroke-width="1.5"/>
<line x1="96.30" y1="725.30" x2="103.80" y2="725.30" stroke="#000" stroke-width="1.5" />
<line x1="96.30" y1="622.15" x2="103.80" y2="622.15" stroke="#000" stroke-width="1.5" />
<line x1="96.30" y1="519.00" x2="103.80" y2="519.00" stroke="#000" stroke-width="1.5" />
<line x1="96.30" y1="704.67" x2="100.10" y2="704.67" stroke="#000" stroke-width="1.5" />
<line x1="96.30" y1="684.04" x2="100.10" y2="684.04" stroke="#000" stroke-width="1.5" />
<line x1="96.30" y1="663.41" x2="100.10" y2="663.41" stroke="#000" stroke-width="1.5" />
<line x1="96.30" y1="642.78" x2="100.10" y2="642.78" stroke="#000" stroke-width="1.5" />
<line x1="96.30" y1="622.15" x2="100.10" y2="622.15" stroke="#000" stroke-width="1.5" />
<line x1="96.30" y1="601.52" x2="100.10" y2="601.52" stroke="#000" stroke-width="1.5" />
<line x1="96.30" y1="580.89" x2="100.10" y2="580.89" stroke="#000" stroke-width="1.5" />
<line x1="96.30" y1="560.26" x2="100.10" y2="560.26" stroke="#000" stroke-width="1.5" />
<line x1="96.30" y1="539.63" x2="100.10" y2="539.63" stroke="#000" stroke-width="1.5" />
<text x="90.60" y="731.10" font-size="18" text-anchor="end" font-weight="normal" >0.7150</text>
<text x="90.60" y="627.95" font-size="18" text-anchor="end" font-weight="normal" >0.7155</text>
<text x="90.60" y="524.80" font-size="18" text-anchor="end" font-weight="normal" >0.7160</text>
<line x1="147.60" y1="725.30" x2="147.60" y2="733.30" stroke="#000" stroke-width="1.5" />
<line x1="250.80" y1="725.30" x2="250.80" y2="733.30" stroke="#000" stroke-width="1.5" />
<text x="147.60" y="756.60" font-size="17.5" text-anchor="middle" font-weight="normal" >MH</text>
<text x="250.80" y="756.60" font-size="17.5" text-anchor="middle" font-weight="normal" >LH</text>
<text x="290.60" y="552.50" font-size="35" text-anchor="end" font-weight="normal" >e</text>
<text transform="translate(19.5,627.3) rotate(-90)" font-size="21" text-anchor="middle"><tspan font-size="14.3" dy="-7.6">87</tspan><tspan dy="7.6">Sr/</tspan><tspan font-size="14.3" dy="-7.6">86</tspan><tspan dy="7.6">Sr</tspan></text>
<line x1="462.50" y1="558.20" x2="462.50" y2="674.10" stroke="#e0303a" stroke-width="1.3" />
<line x1="444.30" y1="558.20" x2="480.70" y2="558.20" stroke="#e0303a" stroke-width="1.3" />
<line x1="444.30" y1="674.10" x2="480.70" y2="674.10" stroke="#e0303a" stroke-width="1.3" />
<polygon points="462.1,568.2 497.9,620.8 462.1,637.7 426.0,620.8" fill="#ea555c" stroke="none" stroke-width="1.2" stroke-linejoin="round"/>
<line x1="599.70" y1="603.80" x2="599.70" y2="689.20" stroke="#1e86f0" stroke-width="1.3" />
<line x1="581.60" y1="603.80" x2="617.80" y2="603.80" stroke="#1e86f0" stroke-width="1.3" />
<line x1="581.60" y1="689.20" x2="617.80" y2="689.20" stroke="#1e86f0" stroke-width="1.3" />
<polygon points="599.7,613.0 635.1,625.5 599.7,648.5 563.9,625.5" fill="#6aacf4" stroke="#1e86f0" stroke-width="1.2" stroke-linejoin="round"/>
<g fill="rgba(0,140,0,0.5)"><path d="M462.1 554.1L466.2 558.2L462.1 562.3L458.0 558.2Z"/><path d="M438.5 563.7L442.6 567.8L438.5 571.9L434.4 567.8Z"/><path d="M485.6 561.8L489.7 565.9L485.6 570.0L481.5 565.9Z"/><path d="M462.1 610.4L466.2 614.5L462.1 618.6L458.0 614.5Z"/><path d="M485.3 616.4L489.4 620.5L485.3 624.6L481.2 620.5Z"/><path d="M438.5 622.4L442.6 626.5L438.5 630.6L434.4 626.5Z"/><path d="M462.1 634.3L466.2 638.4L462.1 642.5L458.0 638.4Z"/><path d="M462.1 657.7L466.2 661.8L462.1 665.9L458.0 661.8Z"/><path d="M462.1 670.0L466.2 674.1L462.1 678.2L458.0 674.1Z"/><path d="M591.1 599.7L595.2 603.8L591.1 607.9L587.0 603.8Z"/><path d="M573.4 605.6L577.5 609.7L573.4 613.8L569.3 609.7Z"/><path d="M626.0 602.7L630.1 606.8L626.0 610.9L621.9 606.8Z"/><path d="M573.4 614.1L577.5 618.2L573.4 622.3L569.3 618.2Z"/><path d="M591.1 613.5L595.2 617.6L591.1 621.7L587.0 617.6Z"/><path d="M608.6 608.2L612.7 612.3L608.6 616.4L604.5 612.3Z"/><path d="M608.6 621.1L612.7 625.2L608.6 629.3L604.5 625.2Z"/><path d="M626.0 621.4L630.1 625.5L626.0 629.6L621.9 625.5Z"/><path d="M591.1 642.4L595.2 646.5L591.1 650.6L587.0 646.5Z"/><path d="M591.1 650.3L595.2 654.4L591.1 658.5L587.0 654.4Z"/><path d="M608.6 644.8L612.7 648.9L608.6 653.0L604.5 648.9Z"/><path d="M608.6 649.0L612.7 653.1L608.6 657.2L604.5 653.1Z"/><path d="M599.7 685.1L603.8 689.2L599.7 693.3L595.6 689.2Z"/></g>
<line x1="426.00" y1="613.90" x2="497.90" y2="613.90" stroke="#000" stroke-width="1.6" />
<line x1="563.90" y1="631.80" x2="635.40" y2="631.80" stroke="#000" stroke-width="1.6" />
<rect x="393.1" y="519" width="275.5" height="206.5" fill="none" stroke="#000" stroke-width="1.5"/>
<line x1="393.10" y1="706.80" x2="400.60" y2="706.80" stroke="#000" stroke-width="1.5" />
<line x1="393.10" y1="669.24" x2="400.60" y2="669.24" stroke="#000" stroke-width="1.5" />
<line x1="393.10" y1="631.68" x2="400.60" y2="631.68" stroke="#000" stroke-width="1.5" />
<line x1="393.10" y1="594.12" x2="400.60" y2="594.12" stroke="#000" stroke-width="1.5" />
<line x1="393.10" y1="556.56" x2="400.60" y2="556.56" stroke="#000" stroke-width="1.5" />
<line x1="393.10" y1="519.00" x2="400.60" y2="519.00" stroke="#000" stroke-width="1.5" />
<line x1="393.10" y1="721.82" x2="396.90" y2="721.82" stroke="#000" stroke-width="1.5" />
<line x1="393.10" y1="714.31" x2="396.90" y2="714.31" stroke="#000" stroke-width="1.5" />
<line x1="393.10" y1="706.80" x2="396.90" y2="706.80" stroke="#000" stroke-width="1.5" />
<line x1="393.10" y1="699.29" x2="396.90" y2="699.29" stroke="#000" stroke-width="1.5" />
<line x1="393.10" y1="691.78" x2="396.90" y2="691.78" stroke="#000" stroke-width="1.5" />
<line x1="393.10" y1="684.26" x2="396.90" y2="684.26" stroke="#000" stroke-width="1.5" />
<line x1="393.10" y1="676.75" x2="396.90" y2="676.75" stroke="#000" stroke-width="1.5" />
<line x1="393.10" y1="669.24" x2="396.90" y2="669.24" stroke="#000" stroke-width="1.5" />
<line x1="393.10" y1="661.73" x2="396.90" y2="661.73" stroke="#000" stroke-width="1.5" />
<line x1="393.10" y1="654.22" x2="396.90" y2="654.22" stroke="#000" stroke-width="1.5" />
<line x1="393.10" y1="646.70" x2="396.90" y2="646.70" stroke="#000" stroke-width="1.5" />
<line x1="393.10" y1="639.19" x2="396.90" y2="639.19" stroke="#000" stroke-width="1.5" />
<line x1="393.10" y1="631.68" x2="396.90" y2="631.68" stroke="#000" stroke-width="1.5" />
<line x1="393.10" y1="624.17" x2="396.90" y2="624.17" stroke="#000" stroke-width="1.5" />
<line x1="393.10" y1="616.66" x2="396.90" y2="616.66" stroke="#000" stroke-width="1.5" />
<line x1="393.10" y1="609.14" x2="396.90" y2="609.14" stroke="#000" stroke-width="1.5" />
<line x1="393.10" y1="601.63" x2="396.90" y2="601.63" stroke="#000" stroke-width="1.5" />
<line x1="393.10" y1="594.12" x2="396.90" y2="594.12" stroke="#000" stroke-width="1.5" />
<line x1="393.10" y1="586.61" x2="396.90" y2="586.61" stroke="#000" stroke-width="1.5" />
<line x1="393.10" y1="579.10" x2="396.90" y2="579.10" stroke="#000" stroke-width="1.5" />
<line x1="393.10" y1="571.58" x2="396.90" y2="571.58" stroke="#000" stroke-width="1.5" />
<line x1="393.10" y1="564.07" x2="396.90" y2="564.07" stroke="#000" stroke-width="1.5" />
<line x1="393.10" y1="556.56" x2="396.90" y2="556.56" stroke="#000" stroke-width="1.5" />
<line x1="393.10" y1="549.05" x2="396.90" y2="549.05" stroke="#000" stroke-width="1.5" />
<line x1="393.10" y1="541.54" x2="396.90" y2="541.54" stroke="#000" stroke-width="1.5" />
<line x1="393.10" y1="534.02" x2="396.90" y2="534.02" stroke="#000" stroke-width="1.5" />
<line x1="393.10" y1="526.51" x2="396.90" y2="526.51" stroke="#000" stroke-width="1.5" />
<text x="383.40" y="712.60" font-size="18" text-anchor="end" font-weight="normal" >0.715</text>
<text x="383.40" y="675.04" font-size="18" text-anchor="end" font-weight="normal" >0.716</text>
<text x="383.40" y="637.48" font-size="18" text-anchor="end" font-weight="normal" >0.717</text>
<text x="383.40" y="599.92" font-size="18" text-anchor="end" font-weight="normal" >0.718</text>
<text x="383.40" y="562.36" font-size="18" text-anchor="end" font-weight="normal" >0.719</text>
<text x="383.40" y="524.80" font-size="18" text-anchor="end" font-weight="normal" >0.720</text>
<line x1="461.60" y1="725.50" x2="461.60" y2="733.50" stroke="#000" stroke-width="1.5" />
<line x1="599.40" y1="725.50" x2="599.40" y2="733.50" stroke="#000" stroke-width="1.5" />
<text x="461.60" y="757.20" font-size="17.5" text-anchor="middle" font-weight="normal" >Kunlun Mounts.</text>
<text x="599.60" y="757.20" font-size="17.5" text-anchor="middle" font-weight="normal" >TB</text>
<text x="656.60" y="553.60" font-size="35" text-anchor="end" font-weight="normal" >f</text>
<line x1="147.40" y1="822.00" x2="147.40" y2="895.60" stroke="#e0303a" stroke-width="1.3" />
<line x1="129.90" y1="822.00" x2="164.90" y2="822.00" stroke="#e0303a" stroke-width="1.3" />
<line x1="129.90" y1="895.60" x2="164.90" y2="895.60" stroke="#e0303a" stroke-width="1.3" />
<polygon points="147.4,828.4 180.9,852.8 147.4,883.5 113.1,852.8" fill="#ea555c" stroke="none" stroke-width="1.2" stroke-linejoin="round"/>
<line x1="217.20" y1="980.40" x2="284.20" y2="980.40" stroke="#1e86f0" stroke-width="1.3" />
<g fill="rgba(0,140,0,0.5)"><path d="M124.6 818.3L128.7 822.4L124.6 826.5L120.5 822.4Z"/><path d="M147.2 830.5L151.3 834.6L147.2 838.7L143.1 834.6Z"/><path d="M169.3 866.7L173.4 870.8L169.3 874.9L165.2 870.8Z"/><path d="M147.2 891.5L151.3 895.6L147.2 899.7L143.1 895.6Z"/><path d="M234.0 976.3L238.1 980.4L234.0 984.5L229.9 980.4Z"/><path d="M267.2 976.3L271.3 980.4L267.2 984.5L263.1 980.4Z"/></g>
<rect x="144.90" y="853.20" width="5" height="5" fill="none" stroke="#333" stroke-width="1.0"/>
<rect x="96.2" y="797.9" width="206.60000000000002" height="206.20000000000005" fill="none" stroke="#000" stroke-width="1.5"/>
<line x1="96.20" y1="809.90" x2="103.70" y2="809.90" stroke="#000" stroke-width="1.5" />
<line x1="96.20" y1="870.53" x2="103.70" y2="870.53" stroke="#000" stroke-width="1.5" />
<line x1="96.20" y1="931.17" x2="103.70" y2="931.17" stroke="#000" stroke-width="1.5" />
<line x1="96.20" y1="991.80" x2="103.70" y2="991.80" stroke="#000" stroke-width="1.5" />
<line x1="96.20" y1="809.90" x2="100.00" y2="809.90" stroke="#000" stroke-width="1.5" />
<line x1="96.20" y1="822.03" x2="100.00" y2="822.03" stroke="#000" stroke-width="1.5" />
<line x1="96.20" y1="834.15" x2="100.00" y2="834.15" stroke="#000" stroke-width="1.5" />
<line x1="96.20" y1="846.28" x2="100.00" y2="846.28" stroke="#000" stroke-width="1.5" />
<line x1="96.20" y1="858.41" x2="100.00" y2="858.41" stroke="#000" stroke-width="1.5" />
<line x1="96.20" y1="870.53" x2="100.00" y2="870.53" stroke="#000" stroke-width="1.5" />
<line x1="96.20" y1="882.66" x2="100.00" y2="882.66" stroke="#000" stroke-width="1.5" />
<line x1="96.20" y1="894.79" x2="100.00" y2="894.79" stroke="#000" stroke-width="1.5" />
<line x1="96.20" y1="906.92" x2="100.00" y2="906.92" stroke="#000" stroke-width="1.5" />
<line x1="96.20" y1="919.04" x2="100.00" y2="919.04" stroke="#000" stroke-width="1.5" />
<line x1="96.20" y1="931.17" x2="100.00" y2="931.17" stroke="#000" stroke-width="1.5" />
<line x1="96.20" y1="943.30" x2="100.00" y2="943.30" stroke="#000" stroke-width="1.5" />
<line x1="96.20" y1="955.42" x2="100.00" y2="955.42" stroke="#000" stroke-width="1.5" />
<line x1="96.20" y1="967.55" x2="100.00" y2="967.55" stroke="#000" stroke-width="1.5" />
<line x1="96.20" y1="979.68" x2="100.00" y2="979.68" stroke="#000" stroke-width="1.5" />
<line x1="96.20" y1="991.80" x2="100.00" y2="991.80" stroke="#000" stroke-width="1.5" />
<text x="86.30" y="815.70" font-size="18" text-anchor="end" font-weight="normal" >&#8722;9.55</text>
<text x="86.30" y="876.33" font-size="18" text-anchor="end" font-weight="normal" >&#8722;9.60</text>
<text x="86.30" y="936.97" font-size="18" text-anchor="end" font-weight="normal" >&#8722;9.65</text>
<text x="86.30" y="997.60" font-size="18" text-anchor="end" font-weight="normal" >&#8722;9.70</text>
<line x1="147.60" y1="1004.10" x2="147.60" y2="1012.10" stroke="#000" stroke-width="1.5" />
<line x1="250.80" y1="1004.10" x2="250.80" y2="1012.10" stroke="#000" stroke-width="1.5" />
<text x="147.60" y="1036.90" font-size="17.5" text-anchor="middle" font-weight="normal" >MH</text>
<text x="250.80" y="1036.90" font-size="17.5" text-anchor="middle" font-weight="normal" >LH</text>
<text x="291.70" y="831.10" font-size="35" text-anchor="end" font-weight="normal" >g</text>
<text transform="translate(24,907) rotate(-90)" font-size="21.5" text-anchor="middle">&#949;Nd(t)</text>
<circle cx="457.3" cy="870.0" r="8.5" fill="#ff0000"/>
<circle cx="494.1" cy="932.1" r="8.5" fill="#ff0000"/>
<circle cx="494.1" cy="952.8" r="8.5" fill="#ff0000"/>
<circle cx="558.4" cy="849.4" r="8.5" fill="#ffff00"/>
<circle cx="604.3" cy="828.7" r="8.5" fill="#ffff00"/>
<circle cx="576.7" cy="890.7" r="8.5" fill="#ffff00"/>
<circle cx="613.5" cy="921.7" r="8.5" fill="#ffff00"/>
<rect x="393" y="797.9" width="275.6" height="206.60000000000002" fill="none" stroke="#000" stroke-width="1.5"/>
<line x1="393.00" y1="1004.50" x2="393.00" y2="997.00" stroke="#000" stroke-width="1.5" />
<line x1="393.00" y1="797.90" x2="393.00" y2="805.40" stroke="#000" stroke-width="1.5" />
<line x1="484.87" y1="1004.50" x2="484.87" y2="997.00" stroke="#000" stroke-width="1.5" />
<line x1="484.87" y1="797.90" x2="484.87" y2="805.40" stroke="#000" stroke-width="1.5" />
<line x1="576.74" y1="1004.50" x2="576.74" y2="997.00" stroke="#000" stroke-width="1.5" />
<line x1="576.74" y1="797.90" x2="576.74" y2="805.40" stroke="#000" stroke-width="1.5" />
<line x1="668.61" y1="1004.50" x2="668.61" y2="997.00" stroke="#000" stroke-width="1.5" />
<line x1="668.61" y1="797.90" x2="668.61" y2="805.40" stroke="#000" stroke-width="1.5" />
<line x1="438.94" y1="1004.50" x2="438.94" y2="1000.70" stroke="#000" stroke-width="1.5" />
<line x1="438.94" y1="797.90" x2="438.94" y2="801.70" stroke="#000" stroke-width="1.5" />
<line x1="530.81" y1="1004.50" x2="530.81" y2="1000.70" stroke="#000" stroke-width="1.5" />
<line x1="530.81" y1="797.90" x2="530.81" y2="801.70" stroke="#000" stroke-width="1.5" />
<line x1="622.67" y1="1004.50" x2="622.67" y2="1000.70" stroke="#000" stroke-width="1.5" />
<line x1="622.67" y1="797.90" x2="622.67" y2="801.70" stroke="#000" stroke-width="1.5" />
<line x1="393.00" y1="963.10" x2="400.50" y2="963.10" stroke="#000" stroke-width="1.5" />
<line x1="393.00" y1="859.70" x2="400.50" y2="859.70" stroke="#000" stroke-width="1.5" />
<line x1="393.00" y1="911.40" x2="396.80" y2="911.40" stroke="#000" stroke-width="1.5" />
<line x1="393.00" y1="808.00" x2="396.80" y2="808.00" stroke="#000" stroke-width="1.5" />
<text x="383.50" y="968.90" font-size="18" text-anchor="end" font-weight="normal" >10</text>
<text x="383.50" y="865.50" font-size="18" text-anchor="end" font-weight="normal" >20</text>
<text x="393.00" y="1027.00" font-size="18" text-anchor="middle" font-weight="normal" >&#8722;9.8</text>
<text x="484.87" y="1027.00" font-size="18" text-anchor="middle" font-weight="normal" >&#8722;9.7</text>
<text x="576.74" y="1027.00" font-size="18" text-anchor="middle" font-weight="normal" >&#8722;9.6</text>
<text x="668.61" y="1027.00" font-size="18" text-anchor="middle" font-weight="normal" >&#8722;9.5</text>
<text x="539.30" y="1052.80" font-size="21" text-anchor="middle" font-weight="normal" >&#949;Nd(t)</text>
<text x="666.30" y="831.80" font-size="35" text-anchor="end" font-weight="normal" >h</text>
<text transform="translate(357,912.5) rotate(-90)" font-size="21" text-anchor="middle">Nd</text>
</svg></body></html>
